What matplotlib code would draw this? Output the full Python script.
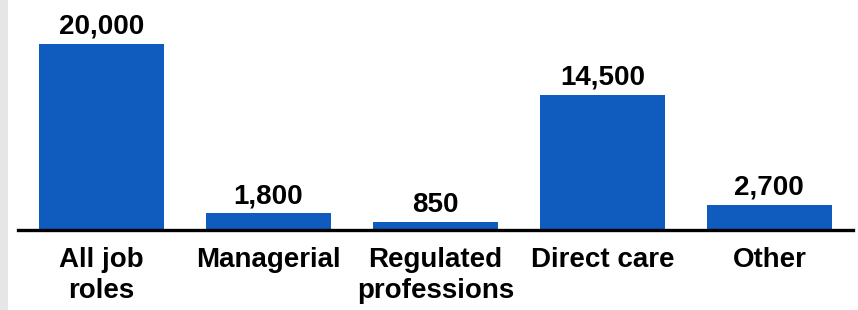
import matplotlib.pyplot as plt
from matplotlib.patches import Rectangle

categories = ['All job\nroles', 'Managerial', 'Regulated\nprofessions', 'Direct care', 'Other']
values = [20000, 1800, 850, 14500, 2700]
value_labels = ['20,000', '1,800', '850', '14,500', '2,700']

plt.rcParams['font.family'] = ['Liberation Sans', 'DejaVu Sans']

fig = plt.figure(figsize=(8.58, 3.10), dpi=100)
ax = fig.add_axes([0.021, 0.258, 0.973, 0.742])

# light grey strip on the left edge of the original screenshot
fig.patches.append(Rectangle((0, 0), 0.009, 1, transform=fig.transFigure,
                             facecolor='#e6e6e6', edgecolor='none'))

x = range(len(categories))
bars = ax.bar(x, values, width=0.75, color='#0F5BBE')

for b, lab in zip(bars, value_labels):
    ax.annotate(lab, (b.get_x() + b.get_width() / 2, b.get_height()),
                xytext=(0, 3), textcoords='offset points',
                ha='center', va='bottom', fontsize=20, fontweight='bold')

ax.set_xlim(-0.5, 4.5)
ax.set_ylim(0, 24700)
ax.set_xticks(list(x))
ax.set_xticklabels(categories, fontsize=20, fontweight='bold', linespacing=1.25)
ax.tick_params(axis='x', length=0, pad=12)
ax.set_yticks([])

for s in ['top', 'right', 'left']:
    ax.spines[s].set_visible(False)
ax.spines['bottom'].set_linewidth(2.4)
ax.spines['bottom'].set_color('black')

fig.savefig('out.png', dpi=100)
